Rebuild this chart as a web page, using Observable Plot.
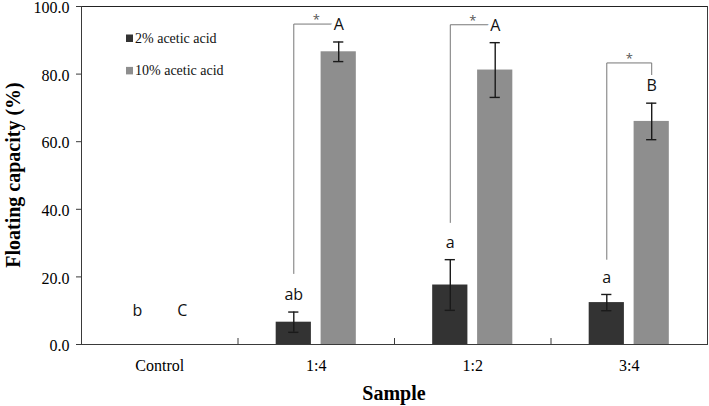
<!DOCTYPE html>
<html><head><meta charset="utf-8">
<script src="https://cdn.jsdelivr.net/npm/d3@7"></script>
<script src="https://cdn.jsdelivr.net/npm/@observablehq/plot@0.6"></script>
<style>body{margin:0;background:#fff} #chart{position:relative;width:709px;height:406px}</style>
</head><body><div id="chart"></div>
<script>
const samples = ["Control", "1:4", "1:2", "3:4"];
const series = ["2% acetic acid", "10% acetic acid"];
const mean2 = [0, 6.6, 17.6, 12.4];
const sd2 = [0, 3.0, 7.5, 2.4];
const mean10 = [0, 86.6, 81.2, 66.0];
const sd10 = [0, 2.9, 8.1, 5.4];
const letters2 = ["b", "ab", "a", "a"];
const letters10 = ["C", "A", "A", "B"];
const bracketSamples = ["1:4", "1:2", "3:4"];
const bracketLow = [21.0, 36.1, 25.2];
const bracketHigh = [94.8, 94.6, 83.3];
const yTicks = [0, 20, 40, 60, 80, 100];
const colors = ["#333333", "#8e8e8e"];

const rows = [];
samples.forEach((s, i) => {
  rows.push({sample: s, series: series[0], mean: mean2[i], sd: sd2[i], letter: letters2[i]});
  rows.push({sample: s, series: series[1], mean: mean10[i], sd: sd10[i], letter: letters10[i]});
});
rows.forEach(d => d.labelY = Math.max(d.mean + d.sd + 5, 10));
const withBars = rows.filter(d => d.mean > 0);
const bracketPts = [];
bracketSamples.forEach((s, i) => {
  const light = rows.find(d => d.sample === s && d.series === series[1]);
  bracketPts.push({sample: s, series: series[0], y: bracketLow[i]});
  bracketPts.push({sample: s, series: series[0], y: bracketHigh[i]});
  bracketPts.push({sample: s, series: series[1], y: bracketHigh[i]});
  bracketPts.push({sample: s, series: series[1], y: light.labelY});
});
const stars = bracketSamples.map((s, i) => ({sample: s, y: bracketHigh[i]}));

const lineColor = "#3a3a3a";
const chart = Plot.plot({
  width: 709, height: 406,
  marginLeft: 81, marginRight: 2, marginTop: 6, marginBottom: 62,
  style: {fontFamily: "'Liberation Serif', serif", fontSize: "16px", color: "#000", background: "#fff"},
  fx: {domain: samples, padding: 0, round: false},
  x: {domain: series, paddingInner: 0.216, paddingOuter: 0.85, round: false, axis: null},
  y: {domain: [0, 100]},
  color: {domain: series, range: colors},
  marks: [
    Plot.barY(withBars, {fx: "sample", x: "series", y: "mean", fill: "series"}),
    Plot.ruleX(withBars, {fx: "sample", x: "series", y1: d => d.mean - d.sd, y2: d => d.mean + d.sd, stroke: "#1a1a1a", strokeWidth: 1.4}),
    Plot.tickY(withBars, {fx: "sample", x: "series", y: d => d.mean + d.sd, insetLeft: 12.5, insetRight: 12.5, stroke: "#1a1a1a", strokeWidth: 1.4}),
    Plot.tickY(withBars, {fx: "sample", x: "series", y: d => d.mean - d.sd, insetLeft: 12.5, insetRight: 12.5, stroke: "#1a1a1a", strokeWidth: 1.4}),
    Plot.frame({anchor: "top", stroke: "#222"}),
    Plot.frame({anchor: "bottom", stroke: lineColor}),
    Plot.frame({anchor: "left", facetAnchor: "left", stroke: lineColor}),
    Plot.frame({anchor: "right", facetAnchor: "right", stroke: lineColor}),
    Plot.frame({anchor: "left", insetTop: 332, stroke: lineColor}),
    Plot.axisY({ticks: yTicks, tickSize: 5, tickFormat: () => "", label: null, stroke: lineColor}),
    Plot.axisY({ticks: yTicks, tickSize: 0, tickPadding: 12, tickFormat: d3.format(".1f"), label: null, fontSize: 16, dy: 1.5}),
    Plot.axisFx({anchor: "bottom", tickSize: 0, tickPadding: 15, label: null, fontSize: 16}),
    Plot.line(bracketPts, {fx: "sample", x: "series", y: "y", z: "sample", stroke: "#777", strokeWidth: 1}),
    Plot.text(stars, {fx: "sample", y: "y", text: () => "*", frameAnchor: "middle", dy: -4, fill: "#555", fontSize: 13, fontFamily: "'Open Sans', sans-serif"}),
    Plot.text(rows, {fx: "sample", x: "series", y: "labelY", text: "letter", fontFamily: "'Open Sans', sans-serif", fontSize: 16, fill: "#111", stroke: "white", strokeWidth: 8, paintOrder: "stroke"})
  ]
});

const svg = d3.select(chart);
svg.append("text")
  .attr("transform", "translate(13,175) rotate(-90)")
  .attr("text-anchor", "middle").attr("dy", "0.35em")
  .attr("font-family", "'Liberation Serif', serif").attr("font-weight", "bold").attr("font-size", 20)
  .text("Floating capacity (%)");
svg.append("text")
  .attr("x", 394).attr("y", 393)
  .attr("text-anchor", "middle").attr("dy", "0.35em")
  .attr("font-family", "'Liberation Serif', serif").attr("font-weight", "bold").attr("font-size", 20)
  .text("Sample");
const leg = svg.append("g").attr("text-anchor", "start");
series.forEach((s, i) => {
  leg.append("rect").attr("x", 126).attr("y", 34.5 + i * 32.4).attr("width", 7).attr("height", 7.5).attr("fill", colors[i]);
  leg.append("text").attr("x", 135).attr("y", 43 + i * 32.4).attr("text-anchor", "start")
    .attr("font-family", "'Liberation Serif', serif").attr("font-size", 14).attr("fill", "#111").text(s);
});
document.getElementById("chart").appendChild(chart);
</script>
</body></html>
